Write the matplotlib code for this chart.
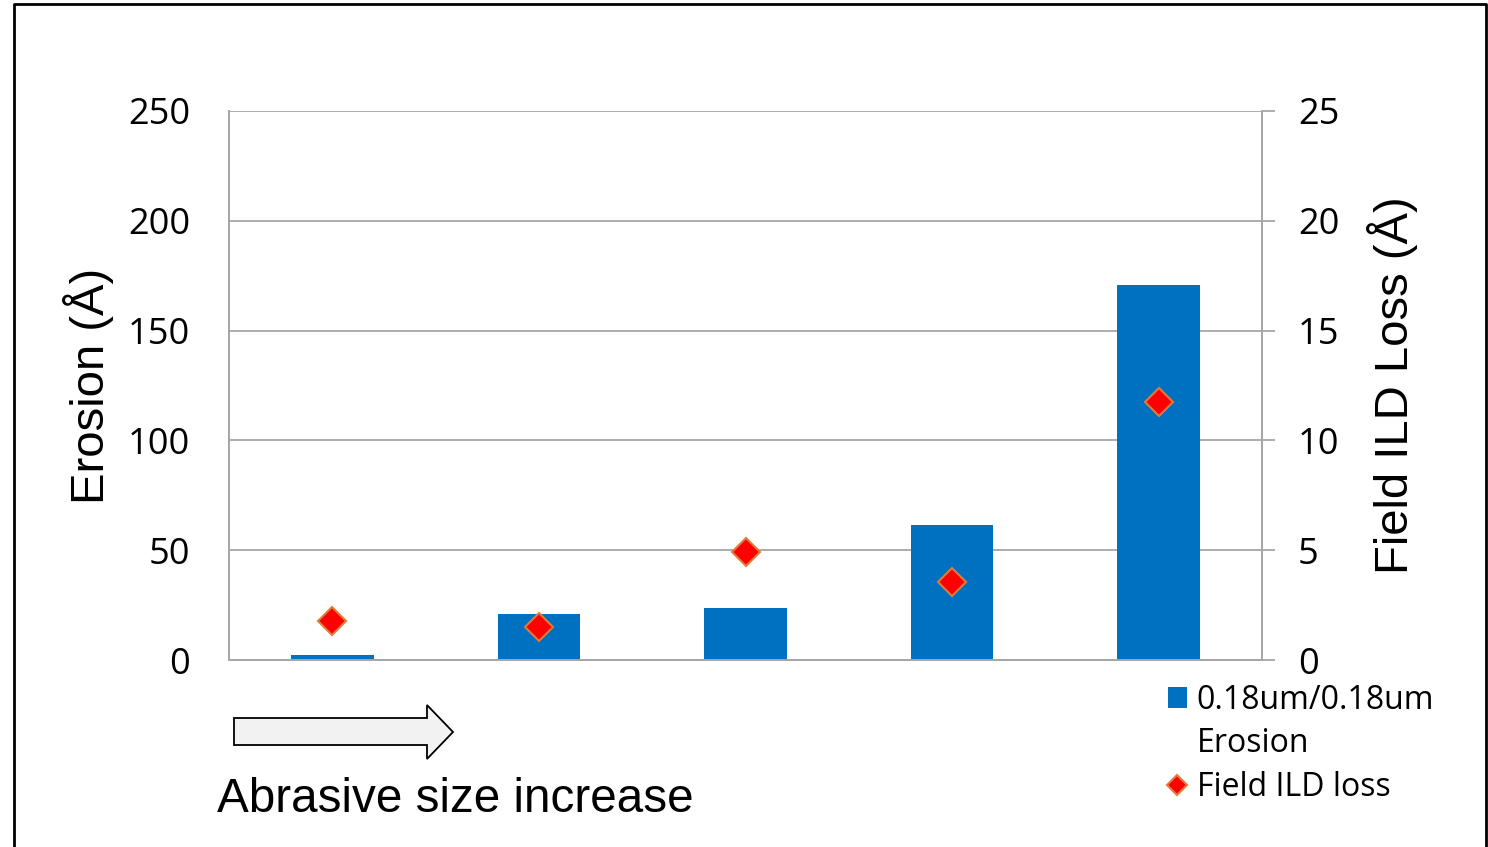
import matplotlib.pyplot as plt
from matplotlib.lines import Line2D
from matplotlib.patches import Polygon

# Datos
categories = ["1", "2", "3", "4", "5"]
erosion = [2.5, 21.0, 23.7, 61.5, 170.8]        # Å, eje izquierdo
field_ild_loss = [1.78, 1.50, 4.92, 3.55, 11.76]  # Å, eje derecho
left_ticks = [0, 50, 100, 150, 200, 250]
right_ticks = [0, 5, 10, 15, 20, 25]

BAR_COLOR = "#0070C0"
GRID_COLOR = "#A6A6A6"
TICK_FONT = "Open Sans"
LABEL_FONT = "Liberation Sans"

fig = plt.figure(figsize=(14.88, 8.47), dpi=100)
ax = fig.add_axes([229 / 1488, 1 - 660 / 847, (1262 - 229) / 1488, (660 - 111) / 847])
ax2 = ax.twinx()

x = range(len(categories))
ax.bar(x, erosion, width=0.4, color=BAR_COLOR, zorder=2, label="0.18um/0.18um")
ax2.plot(x, field_ild_loss, linestyle="none", marker="D", markersize=14.5,
         markerfacecolor="#FF0000", markeredgecolor="#E07B39", markeredgewidth=1.5,
         zorder=3, label="Field ILD loss")

ax.set_xlim(-0.5, len(categories) - 0.5)
ax.set_ylim(0, 250)
ax2.set_ylim(0, 25)
ax.set_xticks([])
ax.set_yticks(left_ticks)
ax2.set_yticks(right_ticks)
ax.yaxis.grid(True, color=GRID_COLOR, linewidth=1.3, zorder=0)
ax.set_axisbelow(True)

for a in (ax, ax2):
    a.spines["top"].set_visible(False)
    for side in ("left", "right", "bottom"):
        a.spines[side].set_color(GRID_COLOR)
        a.spines[side].set_linewidth(1.3)

ax.tick_params(axis="y", length=0, pad=28, labelsize=26)
ax2.tick_params(axis="y", length=9, width=1.3, color=GRID_COLOR, pad=17, labelsize=26)
for lab in ax.get_yticklabels() + ax2.get_yticklabels():
    lab.set_fontfamily(TICK_FONT)

ax.set_ylabel("Erosion (Å)", fontsize=34, family=LABEL_FONT, labelpad=10)
ax2.set_ylabel("Field ILD Loss (Å)", fontsize=34, family=LABEL_FONT, labelpad=20)

# Leyenda combinada: la etiqueta de la barra ocupa dos renglones
h1, l1 = ax.get_legend_handles_labels()
h2, l2 = ax2.get_legend_handles_labels()
spacer = Line2D([], [], linestyle="none", label="Erosion")
leg = fig.legend(h1 + [spacer] + h2, l1 + ["Erosion"] + l2, loc="upper left",
                 bbox_to_anchor=(1155 / 1488, 1 - 671 / 847),
                 frameon=False, prop={"family": TICK_FONT, "size": 23},
                 handlelength=0.6, handleheight=0.6, handletextpad=0.3,
                 labelspacing=0.33, borderaxespad=0)
leg.legend_handles[2].set_markersize(10)

# Flecha de "Abrasive size increase"
arrow_px = [(234, 718), (427, 718), (427, 705), (453, 732), (427, 759), (427, 745), (234, 745)]
fig.patches.append(Polygon([(px / 1488, 1 - py / 847) for px, py in arrow_px], closed=True,
                           transform=fig.transFigure, facecolor="#F2F2F2",
                           edgecolor="black", linewidth=1.3))
fig.text(217 / 1488, 1 - 799 / 847, "Abrasive size increase", fontsize=34.3,
         family=LABEL_FONT, ha="left", va="center")

# Marco de la diapositiva
frame = [(14, 900), (14, 4), (1486, 4), (1486, 900)]
fig.lines.append(Line2D([p[0] / 1488 for p in frame], [1 - p[1] / 847 for p in frame],
                        transform=fig.transFigure, color="black", linewidth=2))

fig.savefig("out.png", dpi=100)
